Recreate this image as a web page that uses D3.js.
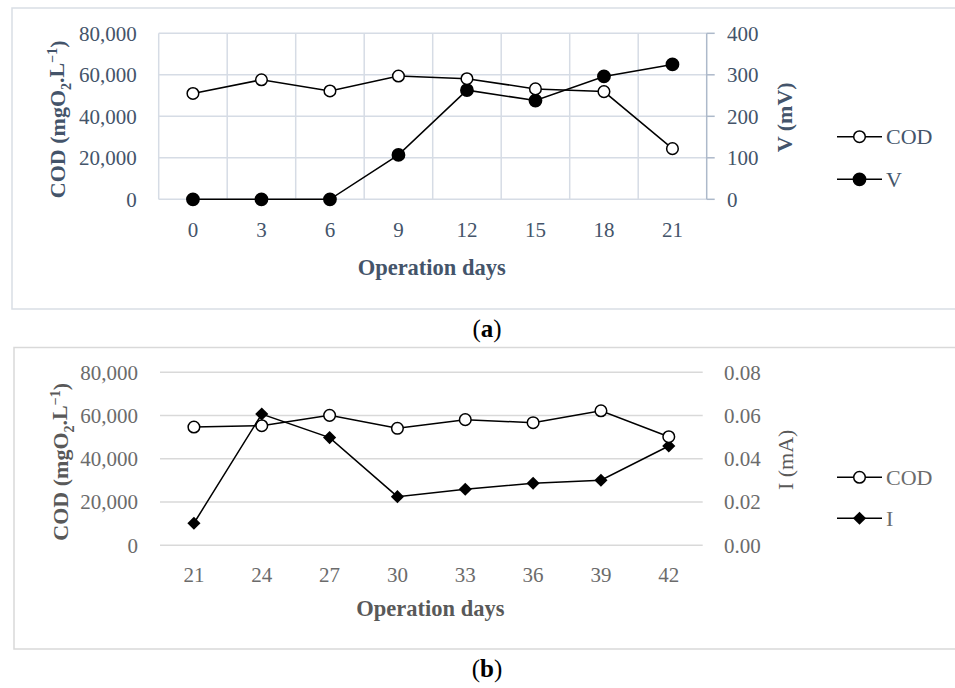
<!DOCTYPE html>
<html><head><meta charset="utf-8">
<script src="https://cdn.jsdelivr.net/npm/d3@7"></script>
<style>body{margin:0;background:#fff}svg{display:block}</style>
</head><body>
<script>
const daysA = [0, 3, 6, 9, 12, 15, 18, 21];
const codA = [51000, 57600, 52200, 59400, 58100, 53200, 51900, 24400];
const vA = [0, 0, 0, 107, 263, 238, 296, 325];
const daysB = [21, 24, 27, 30, 33, 36, 39, 42];
const codB = [54700, 55300, 60100, 54100, 58100, 56700, 62200, 50200];
const iB = [0.0102, 0.0607, 0.0498, 0.0225, 0.0259, 0.0287, 0.0301, 0.0459];
const codTicks = [0, 20000, 40000, 60000, 80000];
const vTicks = [0, 100, 200, 300, 400];
const iTicks = [0, 0.02, 0.04, 0.06, 0.08];

const W = 955, H = 688;
const svg = d3.select("body").append("svg").attr("width", W).attr("height", H);
const FONT = "'Liberation Serif', 'Times New Roman', serif";

function panel(cfg) {
  const g = svg.append("g");
  g.append("rect").attr("x", cfg.box[0]).attr("y", cfg.box[1])
    .attr("width", cfg.box[2] - cfg.box[0]).attr("height", cfg.box[3] - cfg.box[1])
    .attr("fill", "none").attr("stroke", cfg.boxColor).attr("stroke-width", 1.5);

  const x = d3.scalePoint().domain(cfg.days).range([cfg.left, cfg.right]).padding(0.5);
  const band = d3.scaleBand().domain(cfg.days).range([cfg.left, cfg.right]).paddingInner(0).paddingOuter(0);
  const yL = d3.scaleLinear().domain([0, 80000]).range([cfg.bottom, cfg.top]);
  const yR = d3.scaleLinear().domain([0, cfg.rTicks[cfg.rTicks.length - 1]]).range([cfg.bottom, cfg.top]);

  g.selectAll(".hg").data(codTicks).join("line")
    .attr("x1", cfg.left).attr("x2", cfg.right)
    .attr("y1", d => yL(d)).attr("y2", d => yL(d))
    .attr("stroke", cfg.gridColor).attr("stroke-width", 1.5);

  if (cfg.vgrid) {
    const bounds = cfg.days.map(d => band(d));
    g.selectAll(".vg").data(bounds).join("line")
      .attr("x1", d => d).attr("x2", d => d)
      .attr("y1", cfg.top).attr("y2", cfg.bottom)
      .attr("stroke", cfg.gridColor).attr("stroke-width", 1.5);
    g.append("line").attr("x1", cfg.right).attr("x2", cfg.right)
      .attr("y1", cfg.top).attr("y2", cfg.bottom)
      .attr("stroke", cfg.axisColor).attr("stroke-width", 1.5);
    g.selectAll(".rt").data(cfg.rTicks).join("line")
      .attr("x1", cfg.right).attr("x2", cfg.right + 8)
      .attr("y1", d => yR(d)).attr("y2", d => yR(d))
      .attr("stroke", cfg.axisColor).attr("stroke-width", 1.5);
  }

  g.selectAll(".lt").data(codTicks).join("text")
    .attr("x", cfg.left - 22).attr("y", d => yL(d)).attr("dy", "0.35em")
    .attr("text-anchor", "end").attr("font-family", FONT).attr("font-size", 21)
    .attr("fill", cfg.tickColor).text(d => d3.format(",")(d));
  g.selectAll(".rtl").data(cfg.rTicks).join("text")
    .attr("x", cfg.rLabelX).attr("y", d => yR(d)).attr("dy", "0.35em")
    .attr("text-anchor", "start").attr("font-family", FONT).attr("font-size", 21)
    .attr("fill", cfg.tickColor).text(d => cfg.rFormat(d));
  g.selectAll(".xt").data(cfg.days).join("text")
    .attr("x", d => x(d)).attr("y", cfg.xLabelY).attr("dy", "0.35em")
    .attr("text-anchor", "middle").attr("font-family", FONT).attr("font-size", 21)
    .attr("fill", cfg.tickColor).text(d => d);

  g.append("text").attr("x", (cfg.left + cfg.right) / 2 - 1).attr("y", cfg.xTitleY).attr("dy", "0.35em")
    .attr("text-anchor", "middle").attr("font-family", FONT).attr("font-size", 22.5)
    .attr("font-weight", "bold").attr("fill", cfg.titleColor).text("Operation days");

  const lt = g.append("text")
    .attr("transform", `translate(${cfg.lTitleX},${(cfg.top + cfg.bottom) / 2 + 3}) rotate(-90)`)
    .attr("dy", "0.35em").attr("text-anchor", "middle").attr("font-family", FONT)
    .attr("font-size", 22).attr("font-weight", "bold").attr("fill", cfg.titleColor);
  lt.append("tspan").text("COD (mgO");
  lt.append("tspan").attr("font-size", 14).attr("dy", "0.45em").text("2");
  lt.append("tspan").attr("dy", "-0.3em").text(".L");
  lt.append("tspan").attr("font-size", 14).attr("dy", "-0.5em").text("\u22121");
  lt.append("tspan").attr("dy", "0.35em").text(")");

  g.append("text")
    .attr("transform", `translate(${cfg.rTitleX},${(cfg.top + cfg.bottom) / 2 + 1}) rotate(-90)`)
    .attr("dy", "0.35em").attr("text-anchor", "middle").attr("font-family", FONT)
    .attr("font-size", 22).attr("font-weight", cfg.rTitleWeight).attr("fill", cfg.titleColor)
    .text(cfg.rTitle);

  const lineL = d3.line().x((d, i) => x(cfg.days[i])).y(d => yL(d));
  const lineR = d3.line().x((d, i) => x(cfg.days[i])).y(d => yR(d));
  g.append("path").attr("d", lineL(cfg.cod)).attr("fill", "none").attr("stroke", "#000").attr("stroke-width", 1.5);
  g.append("path").attr("d", lineR(cfg.sec)).attr("fill", "none").attr("stroke", "#000").attr("stroke-width", 1.5);

  const sym = cfg.secSymbol;
  g.selectAll(".sm").data(cfg.sec).join("path")
    .attr("transform", (d, i) => `translate(${x(cfg.days[i])},${yR(d)})`)
    .attr("d", d3.symbol().type(sym).size(cfg.secSize)).attr("fill", "#000");
  g.selectAll(".cm").data(cfg.cod).join("circle")
    .attr("cx", (d, i) => x(cfg.days[i])).attr("cy", d => yL(d)).attr("r", 5.8)
    .attr("fill", "#fff").attr("stroke", "#000").attr("stroke-width", 1.5);

  const items = [{ label: "COD", type: "cod", y: cfg.legY[0] }, { label: cfg.secLabel, type: "sec", y: cfg.legY[1] }];
  items.forEach(it => {
    g.append("line").attr("x1", 837).attr("x2", 882).attr("y1", it.y).attr("y2", it.y)
      .attr("stroke", "#000").attr("stroke-width", 1.5);
    if (it.type === "cod") {
      g.append("circle").attr("cx", 859.5).attr("cy", it.y).attr("r", 5.8)
        .attr("fill", "#fff").attr("stroke", "#000").attr("stroke-width", 1.5);
    } else {
      g.append("path").attr("transform", `translate(859.5,${it.y})`)
        .attr("d", d3.symbol().type(sym).size(cfg.secSize)).attr("fill", "#000");
    }
    g.append("text").attr("x", 886).attr("y", it.y).attr("dy", "0.35em")
      .attr("font-family", FONT).attr("font-size", 22).attr("fill", cfg.tickColor).text(it.label);
  });
}

panel({
  box: [12, 8, 962, 309], boxColor: "#D9DEE5",
  left: 158.7, right: 706.7, top: 33.3, bottom: 199.3,
  days: daysA, cod: codA, sec: vA, rTicks: vTicks, rFormat: d => d,
  vgrid: true, gridColor: "#D6DCE5", axisColor: "#ADB9CA",
  tickColor: "#44546A", titleColor: "#44546A",
  rLabelX: 727, xLabelY: 230, xTitleY: 267, lTitleX: 57, rTitleX: 784,
  rTitle: "V (mV)", rTitleWeight: "bold",
  secSymbol: d3.symbolCircle, secSize: 150, secLabel: "V",
  legY: [136.7, 179.3]
});

panel({
  box: [14, 347.5, 962, 649], boxColor: "#D9D9D9",
  left: 160, right: 702.7, top: 372.3, bottom: 545.3,
  days: daysB, cod: codB, sec: iB, rTicks: iTicks, rFormat: d3.format(".2f"),
  vgrid: false, gridColor: "#D9D9D9", axisColor: "#D9D9D9",
  tickColor: "#6B6B6B", titleColor: "#595959",
  rLabelX: 724, xLabelY: 575, xTitleY: 608, lTitleX: 60, rTitleX: 785,
  rTitle: "I (mA)", rTitleWeight: "normal",
  secSymbol: d3.symbolDiamond2, secSize: 110, secLabel: "I",
  legY: [477.3, 518.3]
});

[["a", 328], ["b", 668]].forEach(([l, cy]) => {
  const t = svg.append("text").attr("x", 487).attr("y", cy).attr("dy", "0.35em")
    .attr("text-anchor", "middle").attr("font-family", FONT).attr("font-size", 25).attr("fill", "#000");
  t.append("tspan").text("(");
  t.append("tspan").attr("font-weight", "bold").text(l);
  t.append("tspan").text(")");
});
</script>
</body></html>
